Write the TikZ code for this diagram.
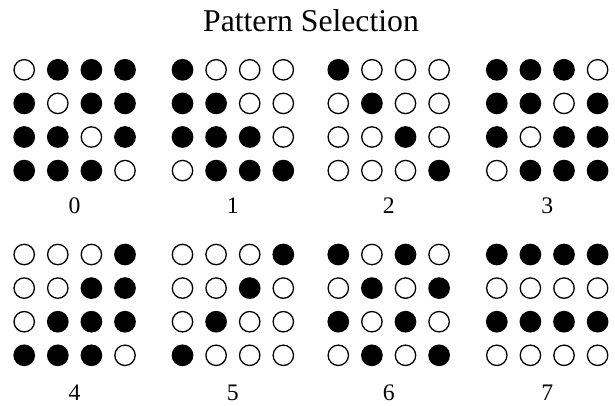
\documentclass[tikz,border=0pt]{standalone}
\usepackage{fontspec}
\setmainfont{Liberation Serif}
\tikzset{
  hole/.style={circle, draw=black, line width=1.3pt, minimum size=20.4pt, inner sep=0pt, fill=white},
  peg/.style={hole, fill=black},
  lab/.style={anchor=base, inner sep=0pt, font=\fontsize{23.7}{24}\selectfont},
  ttl/.style={anchor=base, inner sep=0pt, font=\fontsize{31.7}{32}\selectfont},
}
\def\pats{{0,1,1,1, 1,0,1,1, 1,1,0,1, 1,1,1,0,
           1,0,0,0, 1,1,0,0, 1,1,1,0, 0,1,1,1,
           1,0,0,0, 0,1,0,0, 0,0,1,0, 0,0,0,1,
           1,1,1,0, 1,1,0,1, 1,0,1,1, 0,1,1,1,
           0,0,0,1, 0,0,1,1, 0,1,1,1, 1,1,1,0,
           0,0,0,1, 0,0,1,0, 0,1,0,0, 1,0,0,0,
           1,0,1,0, 0,1,0,1, 1,0,1,0, 0,1,0,1,
           1,1,1,1, 0,0,0,0, 1,1,1,1, 0,0,0,0}}
\begin{document}
\begin{tikzpicture}[x=1pt, y=-1pt]
  \useasboundingbox (0,0) rectangle (615,405);
  \node[ttl] (title) at (311,31) {Pattern Selection};
  \foreach \k/\gx/\gy/\ly in {0/24.2/69.8/213.3, 1/182.5/69.8/213.3, 2/338.3/69.8/213.3, 3/496.8/69.8/213.3,
                              4/24.2/254.5/400.3, 5/182.5/254.5/400.3, 6/338.3/254.5/400.3, 7/496.8/254.5/400.3}{
    \node[lab] (l\k) at (\gx+50.4, \ly) {\k};
    \foreach \r in {0,...,3}{
      \foreach \c in {0,...,3}{
        \pgfmathtruncatemacro\idx{16*\k+4*\r+\c}
        \pgfmathtruncatemacro\val{\pats[\idx]}
        \ifnum\val=1 \def\dotsty{peg}\else\def\dotsty{hole}\fi
        \node[\dotsty] (p\k-\r-\c) at (\gx+33.6*\c, \gy+33.6*\r) {};
      }
    }
  }
\end{tikzpicture}
\end{document}
